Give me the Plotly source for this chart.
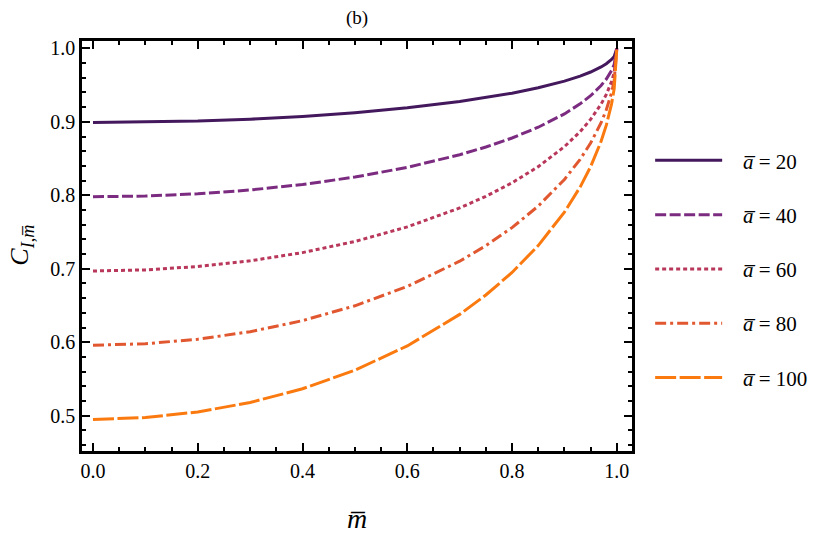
import plotly.graph_objects as go

# m-bar values along the x axis
m_bar = [0.0, 0.1, 0.2, 0.3, 0.4, 0.5, 0.6, 0.7, 0.75, 0.8, 0.85, 0.9,
         0.93, 0.95, 0.97, 0.98, 0.99, 0.995, 1.0]

# C_{I,m} for each a-bar
c_a20 = [0.899, 0.8995, 0.901, 0.9036, 0.9073, 0.9124, 0.919, 0.9276, 0.9329,
         0.939, 0.9463, 0.9554, 0.9622, 0.9678, 0.9747, 0.9791, 0.9849, 0.989, 1.0]
c_a40 = [0.798, 0.799, 0.802, 0.8072, 0.8147, 0.8248, 0.838, 0.8552, 0.8657,
         0.878, 0.8926, 0.9108, 0.9245, 0.9355, 0.9494, 0.9582, 0.9698, 0.978, 1.0]
c_a60 = [0.697, 0.6985, 0.7031, 0.7108, 0.722, 0.7372, 0.757, 0.7828, 0.7986,
         0.817, 0.839, 0.8662, 0.8867, 0.9033, 0.9241, 0.9373, 0.9547, 0.967, 1.0]
c_a80 = [0.596, 0.598, 0.6041, 0.6144, 0.6294, 0.6496, 0.676, 0.7103, 0.7314,
         0.756, 0.7853, 0.8216, 0.849, 0.8711, 0.8988, 0.9164, 0.9396, 0.9561, 1.0]
c_a100 = [0.495, 0.4975, 0.5051, 0.518, 0.5367, 0.562, 0.595, 0.6379, 0.6643,
          0.695, 0.7316, 0.7771, 0.8112, 0.8389, 0.8735, 0.8955, 0.9245, 0.9451, 1.0]

a_labels = ["20", "40", "60", "80", "100"]
series = [c_a20, c_a40, c_a60, c_a80, c_a100]
colors = ["#44185c", "#7c2c80", "#b8375a", "#e1572f", "#fa7a10"]
dashes = ["solid", "11px,3.5px", "4px,3px", "11px,4px,3px,4px", "21px,3.5px"]

FONT = "'Liberation Serif', 'Times New Roman', 'DejaVu Serif', serif"

fig = go.Figure()
for lab, ys, col, dsh in zip(a_labels, series, colors, dashes):
    fig.add_trace(go.Scatter(
        x=m_bar, y=ys, mode="lines",
        name="\u00a0\u00a0\u00a0<i>a\u0305</i> = " + lab,
        legendgroup=lab,
        line=dict(color=col, width=3, dash=dsh),
    ))

axis_common = dict(
    showline=True, linecolor="black", linewidth=2.5, mirror="ticks",
    ticks="inside", ticklen=8, tickwidth=2, tickcolor="black",
    showgrid=False, zeroline=False,
    tickfont=dict(family=FONT, size=20, color="black"),
)

fig.update_xaxes(
    range=[-0.021, 1.029], tick0=0, dtick=0.2, tickformat=".1f",
    minor=dict(dtick=0.05, tick0=0, ticks="inside", ticklen=4, tickwidth=2,
               tickcolor="black"),
    **axis_common,
)
fig.update_yaxes(
    range=[0.452, 1.010], tick0=0, dtick=0.1, tickformat=".1f",
    minor=dict(dtick=0.02, tick0=0, ticks="inside", ticklen=4, tickwidth=2,
               tickcolor="black"),
    **axis_common,
)

fig.add_annotation(text="(b)", xref="paper", yref="paper", x=0.5, y=1.056,
                   showarrow=False, yanchor="middle",
                   font=dict(family=FONT, size=19, color="black"))
fig.add_annotation(text="<i>m\u0305</i>", xref="paper", yref="paper", x=0.5, y=-0.165,
                   showarrow=False, yanchor="middle",
                   font=dict(family=FONT, size=28, color="black"))
fig.add_annotation(text="<i>C</i><sub><i>I</i>,<i>m\u0305</i></sub>",
                   xref="paper", yref="paper", x=-0.11, y=0.502, textangle=-90,
                   showarrow=False, xanchor="center", yanchor="middle",
                   font=dict(family=FONT, size=26, color="black"))

# page body adds an 8px offset, so the figure is 8px smaller on each side
fig.update_layout(
    width=809, height=537,
    margin=dict(l=74, r=185, t=33, b=94, autoexpand=False),
    paper_bgcolor="white", plot_bgcolor="white",
    showlegend=True,
    legend=dict(x=1.033, y=0.758, xanchor="left", yanchor="top",
                font=dict(family=FONT, size=21, color="black"),
                tracegroupgap=24, itemwidth=67, bgcolor="rgba(0,0,0,0)"),
)

fig.write_html("out.html")
